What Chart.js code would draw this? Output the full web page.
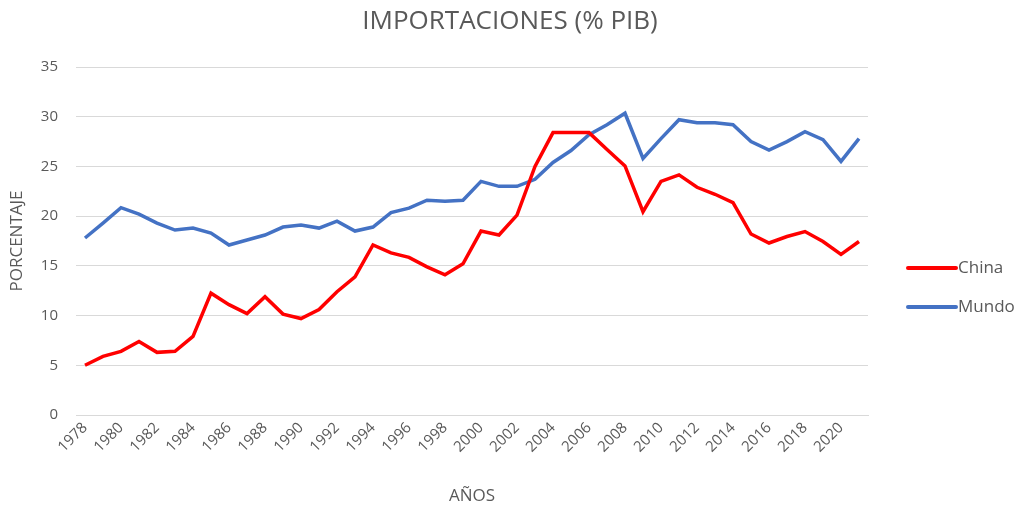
<!DOCTYPE html>
<html>
<head>
<meta charset="utf-8">
<script src="https://cdn.jsdelivr.net/npm/chart.js@4/dist/chart.umd.min.js"></script>
<style>
  html, body { margin: 0; padding: 0; background: #fff; }
  #wrap { width: 1020px; height: 508px; }
</style>
</head>
<body>
<div id="wrap"><canvas id="grafico"></canvas></div>
<script>
const anos = ['1978','1979','1980','1981','1982','1983','1984','1985','1986','1987',
  '1988','1989','1990','1991','1992','1993','1994','1995','1996','1997',
  '1998','1999','2000','2001','2002','2003','2004','2005','2006','2007',
  '2008','2009','2010','2011','2012','2013','2014','2015','2016','2017',
  '2018','2019','2020','2021']

const china = [5.0, 5.9, 6.4, 7.4, 6.3, 6.4, 7.9, 12.25, 11.1, 10.2,
  11.9, 10.15, 9.7, 10.6, 12.4, 13.9, 17.1, 16.3, 15.85, 14.9,
  14.1, 15.2, 18.5, 18.1, 20.1, 25.0, 28.4, 28.4, 28.4, 26.7,
  25.05, 20.45, 23.5, 24.15, 22.9, 22.2, 21.35, 18.2, 17.3, 17.95,
  18.45, 17.45, 16.15, 17.45]

const mundo = [17.8, 19.3, 20.85, 20.2, 19.3, 18.6, 18.8, 18.3, 17.1, 17.6,
  18.1, 18.9, 19.1, 18.8, 19.5, 18.5, 18.9, 20.35, 20.8, 21.6,
  21.5, 21.6, 23.5, 23.0, 23.0, 23.7, 25.4, 26.6, 28.2, 29.2,
  30.35, 25.8, 27.8, 29.7, 29.4, 29.4, 29.2, 27.5, 26.65, 27.5,
  28.5, 27.7, 25.5, 27.8]

const series = ['China', 'Mundo']
const colores = ['#ff0000', '#4472c4']
const titulo = 'IMPORTACIONES (% PIB)'
const gris = '#595959'

// titulo centrado en todo el lienzo y leyenda a la derecha, dibujados a mano
const extras = {
  id: 'extras',
  afterDraw(chart) {
    const ctx = chart.ctx
    ctx.save()
    ctx.fillStyle = gris
    ctx.font = '26px "Open Sans"'
    ctx.textAlign = 'center'
    ctx.textBaseline = 'middle'
    ctx.fillText(titulo, chart.width / 2, 22)

    const x = 908
    const ys = [268, 307]
    ctx.textAlign = 'left'
    chart.data.datasets.forEach((ds, i) => {
      ctx.strokeStyle = ds.borderColor
      ctx.lineWidth = 4
      ctx.lineCap = 'round'
      ctx.beginPath()
      ctx.moveTo(x, ys[i])
      ctx.lineTo(x + 48, ys[i])
      ctx.stroke()
      ctx.fillStyle = gris
      ctx.font = '17px "Open Sans"'
      ctx.fillText(ds.label, x + 50, ys[i])
    })
    ctx.restore()
  }
}

function plotaGrafico(){
  const datasets = [china, mundo].map((d, i) => ({
    label: series[i],
    data: d,
    borderColor: colores[i],
    backgroundColor: colores[i],
    borderWidth: 3.5,
    pointRadius: 0,
    tension: 0
  }))

  const config = {
    type: 'line',
    data: { labels: anos, datasets: datasets },
    plugins: [extras],
    options: {
      responsive: true,
      maintainAspectRatio: false,
      animation: false,
      layout: { padding: { left: 0, right: 152, top: 67, bottom: 0 } },
      plugins: {
        legend: { display: false },
        tooltip: { enabled: false },
        title: { display: false }
      },
      scales: {
        x: {
          offset: true,
          grid: { display: false, drawTicks: false },
          border: { display: true, color: '#d9d9d9', width: 1 },
          ticks: {
            autoSkip: false,
            maxRotation: 45,
            minRotation: 45,
            padding: 4,
            color: gris,
            font: { family: 'Open Sans', size: 15 },
            callback: function(v, i) { return i % 2 === 0 ? anos[i] : '' }
          },
          title: {
            display: true,
            text: 'AÑOS',
            color: gris,
            font: { family: 'Open Sans', size: 17 },
            padding: { top: 4, bottom: 2 }
          },
          afterFit: s => { s.height = 93 }
        },
        y: {
          min: 0,
          max: 35,
          ticks: {
            stepSize: 5,
            padding: 18,
            color: gris,
            font: { family: 'Open Sans', size: 15 }
          },
          grid: { color: '#d9d9d9', lineWidth: 1, drawTicks: false },
          border: { display: false },
          title: {
            display: true,
            text: 'PORCENTAJE',
            color: gris,
            font: { family: 'Open Sans', size: 17 },
            padding: { top: 7, bottom: 0 }
          },
          afterFit: s => { s.width = 76 }
        }
      }
    }
  }
  return new Chart(document.getElementById('grafico'), config)
}

plotaGrafico()
</script>
</body>
</html>
